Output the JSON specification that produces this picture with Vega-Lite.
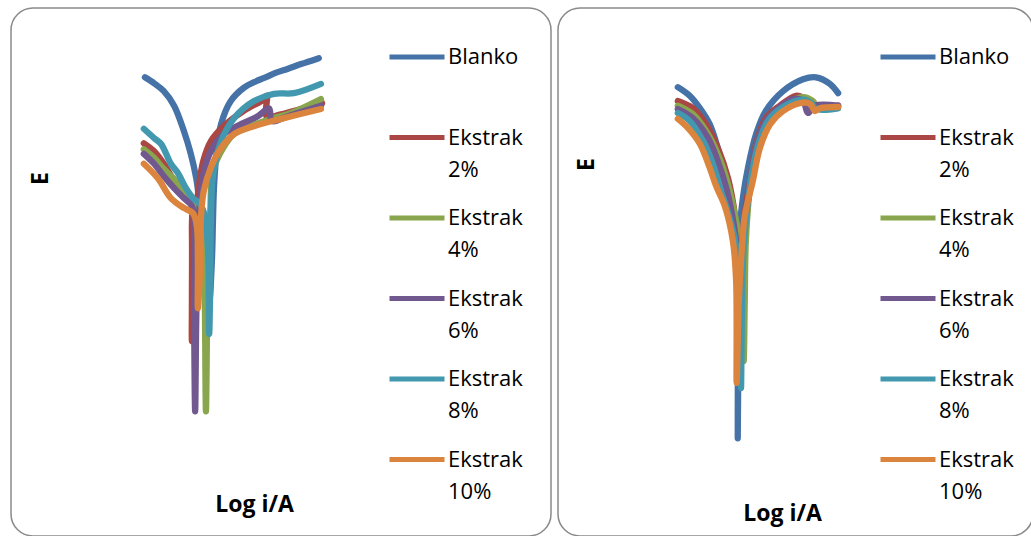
{
"$schema": "https://vega.github.io/schema/vega-lite/v6.json",
"padding": {"left": 10, "top": 7, "right": 0, "bottom": 0},
"background": "white",
"config": {
  "font": "Open Sans",
  "view": {"stroke": "#8a8a8a", "strokeWidth": 1.5, "cornerRadius": 22},
  "style": {"guide-label": {"lineHeight": 32}},
  "legend": {"orient": "none", "title": null, "symbolType": "stroke", "symbolStrokeWidth": 5, "symbolSize": 3025, "labelFont": "Open Sans", "labelFontSize": 22, "labelColor": "black", "labelOffset": 1, "rowPadding": 7.5, "gridAlign": "all", "padding": 0, "labelLimit": 300, "labelBaseline": "middle"}
},
"data": {"values": [
{"panel":"L","series":"Blanko","order":1,"logi":-7.52,"E":-0.305},
{"panel":"L","series":"Blanko","order":2,"logi":-7.35,"E":-0.314},
{"panel":"L","series":"Blanko","order":3,"logi":-7.17,"E":-0.326},
{"panel":"L","series":"Blanko","order":4,"logi":-6.98,"E":-0.348},
{"panel":"L","series":"Blanko","order":5,"logi":-6.80,"E":-0.386},
{"panel":"L","series":"Blanko","order":6,"logi":-6.67,"E":-0.421},
{"panel":"L","series":"Blanko","order":7,"logi":-6.57,"E":-0.458},
{"panel":"L","series":"Blanko","order":8,"logi":-6.52,"E":-0.488},
{"panel":"L","series":"Blanko","order":9,"logi":-6.46,"E":-0.530},
{"panel":"L","series":"Blanko","order":10,"logi":-6.41,"E":-0.583},
{"panel":"L","series":"Blanko","order":11,"logi":-6.33,"E":-0.644},
{"panel":"L","series":"Blanko","order":12,"logi":-6.28,"E":-0.583},
{"panel":"L","series":"Blanko","order":13,"logi":-6.26,"E":-0.523},
{"panel":"L","series":"Blanko","order":14,"logi":-6.24,"E":-0.470},
{"panel":"L","series":"Blanko","order":15,"logi":-6.19,"E":-0.417},
{"panel":"L","series":"Blanko","order":16,"logi":-6.11,"E":-0.376},
{"panel":"L","series":"Blanko","order":17,"logi":-5.93,"E":-0.341},
{"panel":"L","series":"Blanko","order":18,"logi":-5.69,"E":-0.321},
{"panel":"L","series":"Blanko","order":19,"logi":-5.46,"E":-0.311},
{"panel":"L","series":"Blanko","order":20,"logi":-5.31,"E":-0.306},
{"panel":"L","series":"Blanko","order":21,"logi":-5.09,"E":-0.298},
{"panel":"L","series":"Blanko","order":22,"logi":-4.87,"E":-0.292},
{"panel":"L","series":"Blanko","order":23,"logi":-4.63,"E":-0.285},
{"panel":"L","series":"Blanko","order":24,"logi":-4.30,"E":-0.276},
{"panel":"L","series":"Ekstrak 2%","order":1,"logi":-7.54,"E":-0.405},
{"panel":"L","series":"Ekstrak 2%","order":2,"logi":-7.35,"E":-0.417},
{"panel":"L","series":"Ekstrak 2%","order":3,"logi":-7.17,"E":-0.436},
{"panel":"L","series":"Ekstrak 2%","order":4,"logi":-6.98,"E":-0.462},
{"panel":"L","series":"Ekstrak 2%","order":5,"logi":-6.80,"E":-0.482},
{"panel":"L","series":"Ekstrak 2%","order":6,"logi":-6.67,"E":-0.495},
{"panel":"L","series":"Ekstrak 2%","order":7,"logi":-6.65,"E":-0.538},
{"panel":"L","series":"Ekstrak 2%","order":8,"logi":-6.65,"E":-0.644},
{"panel":"L","series":"Ekstrak 2%","order":9,"logi":-6.65,"E":-0.705},
{"panel":"L","series":"Ekstrak 2%","order":10,"logi":-6.61,"E":-0.629},
{"panel":"L","series":"Ekstrak 2%","order":11,"logi":-6.59,"E":-0.553},
{"panel":"L","series":"Ekstrak 2%","order":12,"logi":-6.56,"E":-0.500},
{"panel":"L","series":"Ekstrak 2%","order":13,"logi":-6.52,"E":-0.470},
{"panel":"L","series":"Ekstrak 2%","order":14,"logi":-6.44,"E":-0.432},
{"panel":"L","series":"Ekstrak 2%","order":15,"logi":-6.30,"E":-0.402},
{"panel":"L","series":"Ekstrak 2%","order":16,"logi":-6.06,"E":-0.379},
{"panel":"L","series":"Ekstrak 2%","order":17,"logi":-5.69,"E":-0.356},
{"panel":"L","series":"Ekstrak 2%","order":18,"logi":-5.31,"E":-0.338},
{"panel":"L","series":"Ekstrak 2%","order":19,"logi":-5.26,"E":-0.333},
{"panel":"L","series":"Ekstrak 2%","order":20,"logi":-5.26,"E":-0.365},
{"panel":"L","series":"Ekstrak 2%","order":21,"logi":-5.00,"E":-0.361},
{"panel":"L","series":"Ekstrak 2%","order":22,"logi":-4.63,"E":-0.353},
{"panel":"L","series":"Ekstrak 2%","order":23,"logi":-4.24,"E":-0.344},
{"panel":"L","series":"Ekstrak 4%","order":1,"logi":-7.54,"E":-0.414},
{"panel":"L","series":"Ekstrak 4%","order":2,"logi":-7.35,"E":-0.427},
{"panel":"L","series":"Ekstrak 4%","order":3,"logi":-7.17,"E":-0.444},
{"panel":"L","series":"Ekstrak 4%","order":4,"logi":-6.98,"E":-0.459},
{"panel":"L","series":"Ekstrak 4%","order":5,"logi":-6.76,"E":-0.482},
{"panel":"L","series":"Ekstrak 4%","order":6,"logi":-6.61,"E":-0.497},
{"panel":"L","series":"Ekstrak 4%","order":7,"logi":-6.48,"E":-0.508},
{"panel":"L","series":"Ekstrak 4%","order":8,"logi":-6.43,"E":-0.538},
{"panel":"L","series":"Ekstrak 4%","order":9,"logi":-6.41,"E":-0.644},
{"panel":"L","series":"Ekstrak 4%","order":10,"logi":-6.39,"E":-0.811},
{"panel":"L","series":"Ekstrak 4%","order":11,"logi":-6.37,"E":-0.689},
{"panel":"L","series":"Ekstrak 4%","order":12,"logi":-6.35,"E":-0.583},
{"panel":"L","series":"Ekstrak 4%","order":13,"logi":-6.31,"E":-0.508},
{"panel":"L","series":"Ekstrak 4%","order":14,"logi":-6.26,"E":-0.447},
{"panel":"L","series":"Ekstrak 4%","order":15,"logi":-6.07,"E":-0.412},
{"panel":"L","series":"Ekstrak 4%","order":16,"logi":-5.87,"E":-0.391},
{"panel":"L","series":"Ekstrak 4%","order":17,"logi":-5.56,"E":-0.379},
{"panel":"L","series":"Ekstrak 4%","order":18,"logi":-5.19,"E":-0.368},
{"panel":"L","series":"Ekstrak 4%","order":19,"logi":-4.81,"E":-0.359},
{"panel":"L","series":"Ekstrak 4%","order":20,"logi":-4.26,"E":-0.338},
{"panel":"L","series":"Ekstrak 6%","order":1,"logi":-7.54,"E":-0.421},
{"panel":"L","series":"Ekstrak 6%","order":2,"logi":-7.35,"E":-0.436},
{"panel":"L","series":"Ekstrak 6%","order":3,"logi":-7.17,"E":-0.455},
{"panel":"L","series":"Ekstrak 6%","order":4,"logi":-6.98,"E":-0.473},
{"panel":"L","series":"Ekstrak 6%","order":5,"logi":-6.80,"E":-0.488},
{"panel":"L","series":"Ekstrak 6%","order":6,"logi":-6.65,"E":-0.500},
{"panel":"L","series":"Ekstrak 6%","order":7,"logi":-6.61,"E":-0.538},
{"panel":"L","series":"Ekstrak 6%","order":8,"logi":-6.61,"E":-0.644},
{"panel":"L","series":"Ekstrak 6%","order":9,"logi":-6.59,"E":-0.811},
{"panel":"L","series":"Ekstrak 6%","order":10,"logi":-6.57,"E":-0.674},
{"panel":"L","series":"Ekstrak 6%","order":11,"logi":-6.54,"E":-0.553},
{"panel":"L","series":"Ekstrak 6%","order":12,"logi":-6.50,"E":-0.492},
{"panel":"L","series":"Ekstrak 6%","order":13,"logi":-6.44,"E":-0.452},
{"panel":"L","series":"Ekstrak 6%","order":14,"logi":-6.30,"E":-0.417},
{"panel":"L","series":"Ekstrak 6%","order":15,"logi":-6.06,"E":-0.391},
{"panel":"L","series":"Ekstrak 6%","order":16,"logi":-5.74,"E":-0.376},
{"panel":"L","series":"Ekstrak 6%","order":17,"logi":-5.43,"E":-0.364},
{"panel":"L","series":"Ekstrak 6%","order":18,"logi":-5.22,"E":-0.352},
{"panel":"L","series":"Ekstrak 6%","order":19,"logi":-5.17,"E":-0.371},
{"panel":"L","series":"Ekstrak 6%","order":20,"logi":-4.81,"E":-0.362},
{"panel":"L","series":"Ekstrak 6%","order":21,"logi":-4.26,"E":-0.348},
{"panel":"L","series":"Ekstrak 8%","order":1,"logi":-7.54,"E":-0.383},
{"panel":"L","series":"Ekstrak 8%","order":2,"logi":-7.35,"E":-0.397},
{"panel":"L","series":"Ekstrak 8%","order":3,"logi":-7.22,"E":-0.406},
{"panel":"L","series":"Ekstrak 8%","order":4,"logi":-7.04,"E":-0.436},
{"panel":"L","series":"Ekstrak 8%","order":5,"logi":-6.91,"E":-0.450},
{"panel":"L","series":"Ekstrak 8%","order":6,"logi":-6.76,"E":-0.473},
{"panel":"L","series":"Ekstrak 8%","order":7,"logi":-6.63,"E":-0.488},
{"panel":"L","series":"Ekstrak 8%","order":8,"logi":-6.50,"E":-0.497},
{"panel":"L","series":"Ekstrak 8%","order":9,"logi":-6.41,"E":-0.515},
{"panel":"L","series":"Ekstrak 8%","order":10,"logi":-6.35,"E":-0.568},
{"panel":"L","series":"Ekstrak 8%","order":11,"logi":-6.33,"E":-0.694},
{"panel":"L","series":"Ekstrak 8%","order":12,"logi":-6.31,"E":-0.614},
{"panel":"L","series":"Ekstrak 8%","order":13,"logi":-6.30,"E":-0.523},
{"panel":"L","series":"Ekstrak 8%","order":14,"logi":-6.26,"E":-0.455},
{"panel":"L","series":"Ekstrak 8%","order":15,"logi":-6.11,"E":-0.402},
{"panel":"L","series":"Ekstrak 8%","order":16,"logi":-5.87,"E":-0.367},
{"panel":"L","series":"Ekstrak 8%","order":17,"logi":-5.50,"E":-0.341},
{"panel":"L","series":"Ekstrak 8%","order":18,"logi":-5.13,"E":-0.330},
{"panel":"L","series":"Ekstrak 8%","order":19,"logi":-4.76,"E":-0.329},
{"panel":"L","series":"Ekstrak 8%","order":20,"logi":-4.26,"E":-0.315},
{"panel":"L","series":"Ekstrak 10%","order":1,"logi":-7.54,"E":-0.436},
{"panel":"L","series":"Ekstrak 10%","order":2,"logi":-7.28,"E":-0.458},
{"panel":"L","series":"Ekstrak 10%","order":3,"logi":-7.04,"E":-0.488},
{"panel":"L","series":"Ekstrak 10%","order":4,"logi":-6.80,"E":-0.503},
{"panel":"L","series":"Ekstrak 10%","order":5,"logi":-6.63,"E":-0.511},
{"panel":"L","series":"Ekstrak 10%","order":6,"logi":-6.56,"E":-0.530},
{"panel":"L","series":"Ekstrak 10%","order":7,"logi":-6.54,"E":-0.583},
{"panel":"L","series":"Ekstrak 10%","order":8,"logi":-6.54,"E":-0.655},
{"panel":"L","series":"Ekstrak 10%","order":9,"logi":-6.50,"E":-0.598},
{"panel":"L","series":"Ekstrak 10%","order":10,"logi":-6.48,"E":-0.515},
{"panel":"L","series":"Ekstrak 10%","order":11,"logi":-6.43,"E":-0.477},
{"panel":"L","series":"Ekstrak 10%","order":12,"logi":-6.30,"E":-0.442},
{"panel":"L","series":"Ekstrak 10%","order":13,"logi":-6.11,"E":-0.412},
{"panel":"L","series":"Ekstrak 10%","order":14,"logi":-5.87,"E":-0.391},
{"panel":"L","series":"Ekstrak 10%","order":15,"logi":-5.50,"E":-0.379},
{"panel":"L","series":"Ekstrak 10%","order":16,"logi":-5.00,"E":-0.368},
{"panel":"L","series":"Ekstrak 10%","order":17,"logi":-4.26,"E":-0.353},
{"panel":"R","series":"Blanko","order":1,"logi":-7.78,"E":-0.320},
{"panel":"R","series":"Blanko","order":2,"logi":-7.56,"E":-0.333},
{"panel":"R","series":"Blanko","order":3,"logi":-7.37,"E":-0.352},
{"panel":"R","series":"Blanko","order":4,"logi":-7.19,"E":-0.376},
{"panel":"R","series":"Blanko","order":5,"logi":-7.04,"E":-0.412},
{"panel":"R","series":"Blanko","order":6,"logi":-6.91,"E":-0.450},
{"panel":"R","series":"Blanko","order":7,"logi":-6.76,"E":-0.508},
{"panel":"R","series":"Blanko","order":8,"logi":-6.69,"E":-0.564},
{"panel":"R","series":"Blanko","order":9,"logi":-6.67,"E":-0.644},
{"panel":"R","series":"Blanko","order":10,"logi":-6.67,"E":-0.852},
{"panel":"R","series":"Blanko","order":11,"logi":-6.65,"E":-0.644},
{"panel":"R","series":"Blanko","order":12,"logi":-6.63,"E":-0.533},
{"panel":"R","series":"Blanko","order":13,"logi":-6.57,"E":-0.485},
{"panel":"R","series":"Blanko","order":14,"logi":-6.48,"E":-0.442},
{"panel":"R","series":"Blanko","order":15,"logi":-6.33,"E":-0.391},
{"panel":"R","series":"Blanko","order":16,"logi":-6.15,"E":-0.356},
{"panel":"R","series":"Blanko","order":17,"logi":-5.83,"E":-0.326},
{"panel":"R","series":"Blanko","order":18,"logi":-5.46,"E":-0.308},
{"panel":"R","series":"Blanko","order":19,"logi":-5.22,"E":-0.305},
{"panel":"R","series":"Blanko","order":20,"logi":-4.96,"E":-0.315},
{"panel":"R","series":"Blanko","order":21,"logi":-4.81,"E":-0.329},
{"panel":"R","series":"Ekstrak 2%","order":1,"logi":-7.78,"E":-0.341},
{"panel":"R","series":"Ekstrak 2%","order":2,"logi":-7.50,"E":-0.352},
{"panel":"R","series":"Ekstrak 2%","order":3,"logi":-7.26,"E":-0.376},
{"panel":"R","series":"Ekstrak 2%","order":4,"logi":-7.04,"E":-0.412},
{"panel":"R","series":"Ekstrak 2%","order":5,"logi":-6.85,"E":-0.458},
{"panel":"R","series":"Ekstrak 2%","order":6,"logi":-6.72,"E":-0.515},
{"panel":"R","series":"Ekstrak 2%","order":7,"logi":-6.65,"E":-0.583},
{"panel":"R","series":"Ekstrak 2%","order":8,"logi":-6.63,"E":-0.689},
{"panel":"R","series":"Ekstrak 2%","order":9,"logi":-6.61,"E":-0.614},
{"panel":"R","series":"Ekstrak 2%","order":10,"logi":-6.57,"E":-0.538},
{"panel":"R","series":"Ekstrak 2%","order":11,"logi":-6.52,"E":-0.500},
{"panel":"R","series":"Ekstrak 2%","order":12,"logi":-6.44,"E":-0.462},
{"panel":"R","series":"Ekstrak 2%","order":13,"logi":-6.33,"E":-0.406},
{"panel":"R","series":"Ekstrak 2%","order":14,"logi":-6.15,"E":-0.367},
{"panel":"R","series":"Ekstrak 2%","order":15,"logi":-5.89,"E":-0.348},
{"panel":"R","series":"Ekstrak 2%","order":16,"logi":-5.59,"E":-0.333},
{"panel":"R","series":"Ekstrak 2%","order":17,"logi":-5.46,"E":-0.336},
{"panel":"R","series":"Ekstrak 2%","order":18,"logi":-5.33,"E":-0.345},
{"panel":"R","series":"Ekstrak 2%","order":19,"logi":-5.19,"E":-0.352},
{"panel":"R","series":"Ekstrak 2%","order":20,"logi":-4.81,"E":-0.348},
{"panel":"R","series":"Ekstrak 4%","order":1,"logi":-7.78,"E":-0.348},
{"panel":"R","series":"Ekstrak 4%","order":2,"logi":-7.50,"E":-0.361},
{"panel":"R","series":"Ekstrak 4%","order":3,"logi":-7.26,"E":-0.386},
{"panel":"R","series":"Ekstrak 4%","order":4,"logi":-7.04,"E":-0.421},
{"panel":"R","series":"Ekstrak 4%","order":5,"logi":-6.85,"E":-0.467},
{"panel":"R","series":"Ekstrak 4%","order":6,"logi":-6.70,"E":-0.523},
{"panel":"R","series":"Ekstrak 4%","order":7,"logi":-6.59,"E":-0.583},
{"panel":"R","series":"Ekstrak 4%","order":8,"logi":-6.56,"E":-0.735},
{"panel":"R","series":"Ekstrak 4%","order":9,"logi":-6.54,"E":-0.644},
{"panel":"R","series":"Ekstrak 4%","order":10,"logi":-6.52,"E":-0.553},
{"panel":"R","series":"Ekstrak 4%","order":11,"logi":-6.43,"E":-0.462},
{"panel":"R","series":"Ekstrak 4%","order":12,"logi":-6.30,"E":-0.402},
{"panel":"R","series":"Ekstrak 4%","order":13,"logi":-6.11,"E":-0.368},
{"panel":"R","series":"Ekstrak 4%","order":14,"logi":-5.83,"E":-0.348},
{"panel":"R","series":"Ekstrak 4%","order":15,"logi":-5.46,"E":-0.335},
{"panel":"R","series":"Ekstrak 4%","order":16,"logi":-5.28,"E":-0.341},
{"panel":"R","series":"Ekstrak 4%","order":17,"logi":-5.19,"E":-0.352},
{"panel":"R","series":"Ekstrak 4%","order":18,"logi":-4.81,"E":-0.350},
{"panel":"R","series":"Ekstrak 6%","order":1,"logi":-7.78,"E":-0.353},
{"panel":"R","series":"Ekstrak 6%","order":2,"logi":-7.50,"E":-0.367},
{"panel":"R","series":"Ekstrak 6%","order":3,"logi":-7.22,"E":-0.397},
{"panel":"R","series":"Ekstrak 6%","order":4,"logi":-7.04,"E":-0.432},
{"panel":"R","series":"Ekstrak 6%","order":5,"logi":-6.87,"E":-0.477},
{"panel":"R","series":"Ekstrak 6%","order":6,"logi":-6.74,"E":-0.530},
{"panel":"R","series":"Ekstrak 6%","order":7,"logi":-6.65,"E":-0.591},
{"panel":"R","series":"Ekstrak 6%","order":8,"logi":-6.63,"E":-0.689},
{"panel":"R","series":"Ekstrak 6%","order":9,"logi":-6.61,"E":-0.614},
{"panel":"R","series":"Ekstrak 6%","order":10,"logi":-6.57,"E":-0.538},
{"panel":"R","series":"Ekstrak 6%","order":11,"logi":-6.48,"E":-0.492},
{"panel":"R","series":"Ekstrak 6%","order":12,"logi":-6.35,"E":-0.417},
{"panel":"R","series":"Ekstrak 6%","order":13,"logi":-6.17,"E":-0.374},
{"panel":"R","series":"Ekstrak 6%","order":14,"logi":-5.93,"E":-0.353},
{"panel":"R","series":"Ekstrak 6%","order":15,"logi":-5.65,"E":-0.338},
{"panel":"R","series":"Ekstrak 6%","order":16,"logi":-5.46,"E":-0.341},
{"panel":"R","series":"Ekstrak 6%","order":17,"logi":-5.37,"E":-0.359},
{"panel":"R","series":"Ekstrak 6%","order":18,"logi":-5.24,"E":-0.348},
{"panel":"R","series":"Ekstrak 6%","order":19,"logi":-4.81,"E":-0.348},
{"panel":"R","series":"Ekstrak 8%","order":1,"logi":-7.78,"E":-0.359},
{"panel":"R","series":"Ekstrak 8%","order":2,"logi":-7.56,"E":-0.371},
{"panel":"R","series":"Ekstrak 8%","order":3,"logi":-7.31,"E":-0.402},
{"panel":"R","series":"Ekstrak 8%","order":4,"logi":-7.13,"E":-0.436},
{"panel":"R","series":"Ekstrak 8%","order":5,"logi":-6.98,"E":-0.477},
{"panel":"R","series":"Ekstrak 8%","order":6,"logi":-6.83,"E":-0.515},
{"panel":"R","series":"Ekstrak 8%","order":7,"logi":-6.70,"E":-0.561},
{"panel":"R","series":"Ekstrak 8%","order":8,"logi":-6.63,"E":-0.629},
{"panel":"R","series":"Ekstrak 8%","order":9,"logi":-6.61,"E":-0.776},
{"panel":"R","series":"Ekstrak 8%","order":10,"logi":-6.59,"E":-0.644},
{"panel":"R","series":"Ekstrak 8%","order":11,"logi":-6.56,"E":-0.561},
{"panel":"R","series":"Ekstrak 8%","order":12,"logi":-6.43,"E":-0.462},
{"panel":"R","series":"Ekstrak 8%","order":13,"logi":-6.30,"E":-0.409},
{"panel":"R","series":"Ekstrak 8%","order":14,"logi":-6.11,"E":-0.371},
{"panel":"R","series":"Ekstrak 8%","order":15,"logi":-5.83,"E":-0.350},
{"panel":"R","series":"Ekstrak 8%","order":16,"logi":-5.46,"E":-0.339},
{"panel":"R","series":"Ekstrak 8%","order":17,"logi":-5.31,"E":-0.344},
{"panel":"R","series":"Ekstrak 8%","order":18,"logi":-5.22,"E":-0.353},
{"panel":"R","series":"Ekstrak 8%","order":19,"logi":-4.81,"E":-0.352},
{"panel":"R","series":"Ekstrak 10%","order":1,"logi":-7.78,"E":-0.368},
{"panel":"R","series":"Ekstrak 10%","order":2,"logi":-7.59,"E":-0.382},
{"panel":"R","series":"Ekstrak 10%","order":3,"logi":-7.37,"E":-0.406},
{"panel":"R","series":"Ekstrak 10%","order":4,"logi":-7.19,"E":-0.442},
{"panel":"R","series":"Ekstrak 10%","order":5,"logi":-7.07,"E":-0.470},
{"panel":"R","series":"Ekstrak 10%","order":6,"logi":-6.91,"E":-0.500},
{"panel":"R","series":"Ekstrak 10%","order":7,"logi":-6.76,"E":-0.553},
{"panel":"R","series":"Ekstrak 10%","order":8,"logi":-6.70,"E":-0.614},
{"panel":"R","series":"Ekstrak 10%","order":9,"logi":-6.69,"E":-0.768},
{"panel":"R","series":"Ekstrak 10%","order":10,"logi":-6.65,"E":-0.644},
{"panel":"R","series":"Ekstrak 10%","order":11,"logi":-6.59,"E":-0.561},
{"panel":"R","series":"Ekstrak 10%","order":12,"logi":-6.54,"E":-0.515},
{"panel":"R","series":"Ekstrak 10%","order":13,"logi":-6.39,"E":-0.462},
{"panel":"R","series":"Ekstrak 10%","order":14,"logi":-6.26,"E":-0.412},
{"panel":"R","series":"Ekstrak 10%","order":15,"logi":-6.07,"E":-0.376},
{"panel":"R","series":"Ekstrak 10%","order":16,"logi":-5.83,"E":-0.356},
{"panel":"R","series":"Ekstrak 10%","order":17,"logi":-5.52,"E":-0.344},
{"panel":"R","series":"Ekstrak 10%","order":18,"logi":-5.33,"E":-0.345},
{"panel":"R","series":"Ekstrak 10%","order":19,"logi":-5.24,"E":-0.356},
{"panel":"R","series":"Ekstrak 10%","order":20,"logi":-5.15,"E":-0.352},
{"panel":"R","series":"Ekstrak 10%","order":21,"logi":-4.81,"E":-0.350}
]},
"spacing": 5,
"resolve": {"scale": {"color": "independent"}, "legend": {"color": "independent"}},
"hconcat": [
  {
    "width": 540, "height": 528,
    "transform": [{"filter": "datum.panel === 'L'"}],
    "mark": {"type": "line", "strokeWidth": 6.3, "strokeCap": "round", "strokeJoin": "round", "interpolate": "catmull-rom"},
    "encoding": {
      "x": {"field": "logi", "type": "quantitative", "scale": {"domain": [-10, 0], "nice": false, "zero": false},
            "axis": {"title": "Log i/A", "labels": false, "ticks": false, "domain": false, "grid": false, "titleX": 243, "titleY": -32, "titleFontSize": 23, "titleFontWeight": "bold", "titleColor": "black", "titleBaseline": "middle", "titleAlign": "center"}},
      "y": {"field": "E", "type": "quantitative", "scale": {"domain": [-1.0, -0.2], "nice": false, "zero": false},
            "axis": {"title": "E", "labels": false, "ticks": false, "domain": false, "grid": false, "titleX": 29, "titleY": 170, "titleAngle": 270, "titleFontSize": 23, "titleFontWeight": "bold", "titleColor": "black", "titleBaseline": "middle", "titleAlign": "center"}},
      "color": {"field": "series", "type": "nominal",
                "scale": {"domain": ["Blanko", "Ekstrak 2%", "Ekstrak 4%", "Ekstrak 6%", "Ekstrak 8%", "Ekstrak 10%"], "range": ["#4572A7", "#AA4643", "#89A54E", "#71588F", "#4198AF", "#DB843D"]},
                "legend": {"legendX": 376, "legendY": 19, "labelExpr": "datum.label === 'Blanko' ? 'Blanko' : split(datum.label, ' ')"}},
      "order": {"field": "order", "type": "quantitative"}
    }
  },
  {
    "width": 475, "height": 528,
    "transform": [{"filter": "datum.panel === 'R'"}],
    "mark": {"type": "line", "strokeWidth": 6.3, "strokeCap": "round", "strokeJoin": "round", "interpolate": "catmull-rom"},
    "encoding": {
      "x": {"field": "logi", "type": "quantitative", "scale": {"domain": [-10, -1.2], "nice": false, "zero": false},
            "axis": {"title": "Log i/A", "labels": false, "ticks": false, "domain": false, "grid": false, "titleX": 224, "titleY": -23, "titleFontSize": 23, "titleFontWeight": "bold", "titleColor": "black", "titleBaseline": "middle", "titleAlign": "center"}},
      "y": {"field": "E", "type": "quantitative", "scale": {"domain": [-1.0, -0.2], "nice": false, "zero": false},
            "axis": {"title": "E", "labels": false, "ticks": false, "domain": false, "grid": false, "titleX": 28, "titleY": 156, "titleAngle": 270, "titleFontSize": 23, "titleFontWeight": "bold", "titleColor": "black", "titleBaseline": "middle", "titleAlign": "center"}},
      "color": {"field": "series", "type": "nominal",
                "scale": {"domain": ["Blanko", "Ekstrak 2%", "Ekstrak 4%", "Ekstrak 6%", "Ekstrak 8%", "Ekstrak 10%"], "range": ["#4572A7", "#AA4643", "#89A54E", "#71588F", "#4198AF", "#DB843D"]},
                "legend": {"legendX": 320, "legendY": 19, "labelExpr": "datum.label === 'Blanko' ? 'Blanko' : split(datum.label, ' ')"}},
      "order": {"field": "order", "type": "quantitative"}
    }
  }
]
}
